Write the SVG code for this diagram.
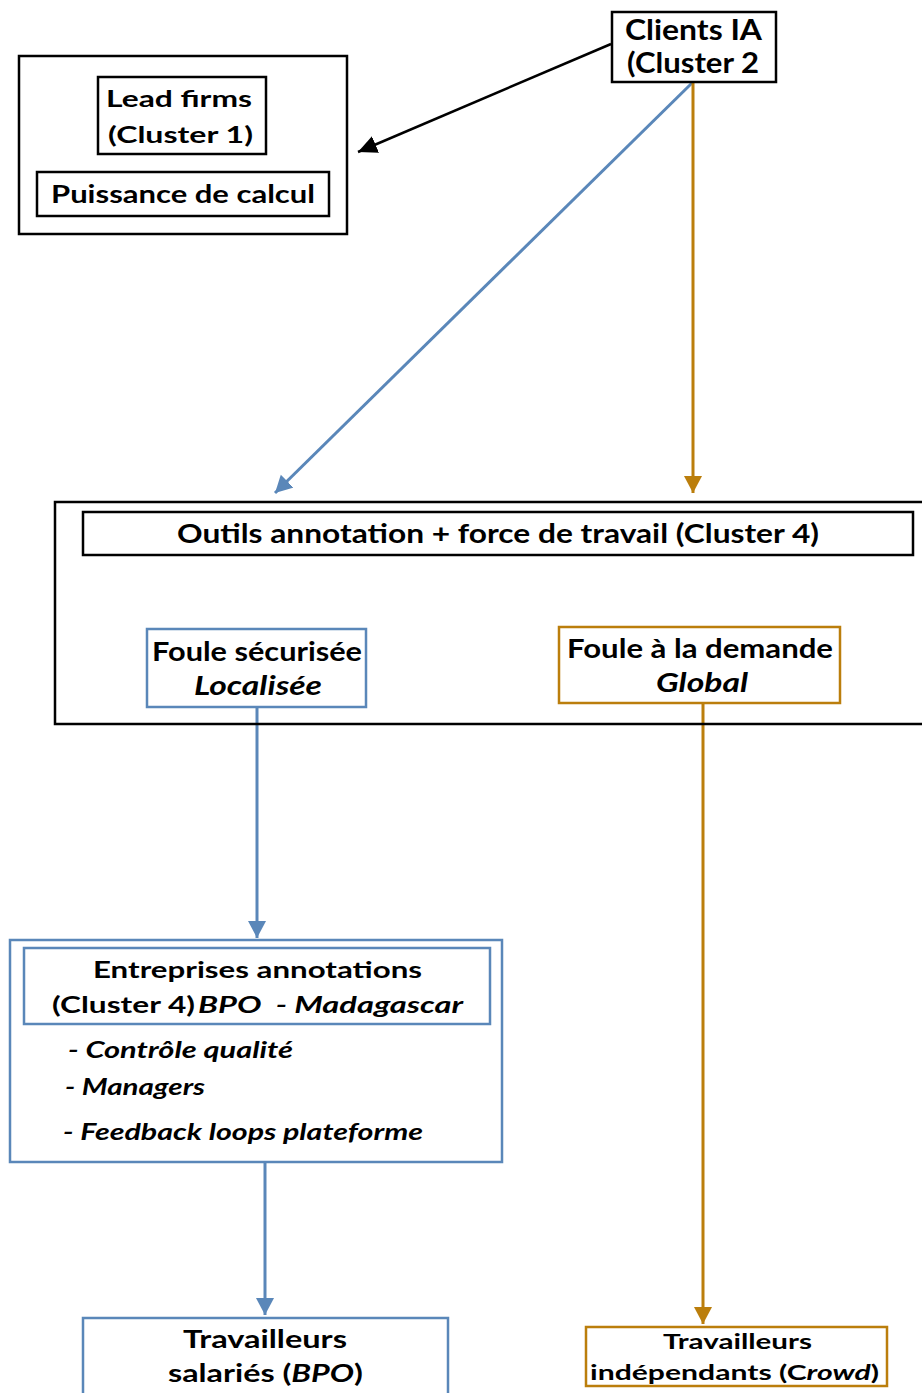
<svg xmlns="http://www.w3.org/2000/svg" width="922" height="1393" viewBox="0 0 922 1393">
<style>
.t{font-family:Lato,"Open Sans","Liberation Sans",sans-serif;font-weight:700;fill:#000}
.i{font-style:italic}
.bk{fill:none;stroke:#000;stroke-width:2.5}
.bl{fill:none;stroke:#5a87b9;stroke-width:2.5}
.or{fill:none;stroke:#bb7e0c;stroke-width:2.5}
.cbl{fill:none;stroke:#5a87b9;stroke-width:3}
.cor{fill:none;stroke:#bb7e0c;stroke-width:3}
.cbk{fill:none;stroke:#000;stroke-width:2.5}
</style>
<defs>
<marker id="ab" markerUnits="userSpaceOnUse" markerWidth="20" markerHeight="20" refX="17" refY="9" orient="auto"><path d="M0,0 L17,9 L0,18 z" fill="#5a87b9"/></marker>
<marker id="ao" markerUnits="userSpaceOnUse" markerWidth="20" markerHeight="20" refX="17" refY="9" orient="auto"><path d="M0,0 L17,9 L0,18 z" fill="#bb7e0c"/></marker>
<marker id="ak" markerUnits="userSpaceOnUse" markerWidth="22" markerHeight="22" refX="19" refY="9" orient="auto"><path d="M0,0 L19,9 L0,18 z" fill="#000"/></marker>
</defs>
<rect width="922" height="1393" fill="#fff"/>

<g id="connectors">
<line class="cbk" x1="611" y1="44" x2="358" y2="152" marker-end="url(#ak)"/>
<line class="cbl" x1="692" y1="83" x2="275" y2="493" marker-end="url(#ab)"/>
<line class="cor" x1="693" y1="83" x2="693" y2="493" marker-end="url(#ao)"/>
<line class="cbl" x1="257" y1="708" x2="257" y2="938" marker-end="url(#ab)"/>
<line class="cor" x1="703" y1="704" x2="703" y2="1324" marker-end="url(#ao)"/>
<line class="cbl" x1="265" y1="1162" x2="265" y2="1315" marker-end="url(#ab)"/>
</g>

<g id="clients">
<rect class="bk" x="612" y="12" width="164" height="70"/>
<text class="t" x="625" y="40" font-size="28" textLength="137" lengthAdjust="spacingAndGlyphs">Clients IA</text>
<text class="t" x="627" y="73" font-size="28" textLength="132" lengthAdjust="spacingAndGlyphs">(Cluster 2</text>
</g>

<g id="cluster1">
<rect class="bk" x="19" y="56" width="328" height="178"/>
<g id="leadfirms">
<rect class="bk" x="98" y="77" width="168" height="77"/>
<text class="t" x="106" y="107" font-size="22" textLength="146" lengthAdjust="spacingAndGlyphs">Lead firms</text>
<text class="t" x="108" y="143" font-size="22" textLength="145" lengthAdjust="spacingAndGlyphs">(Cluster 1)</text>
</g>
<g id="puissance">
<rect class="bk" x="37" y="172" width="292" height="44"/>
<text class="t" x="51" y="203" font-size="24" textLength="264" lengthAdjust="spacingAndGlyphs">Puissance de calcul</text>
</g>
</g>

<g id="cluster4">
<rect class="bk" x="55" y="502" width="880" height="222"/>
<g id="outils">
<rect class="bk" x="83" y="512" width="830" height="43"/>
<text class="t" x="177" y="543" font-size="26" textLength="642" lengthAdjust="spacingAndGlyphs">Outils annotation + force de travail (Cluster 4)</text>
</g>
<g id="foule-securisee">
<rect class="bl" x="147" y="629" width="219" height="78"/>
<text class="t" x="152" y="661" font-size="26" textLength="210" lengthAdjust="spacingAndGlyphs">Foule sécurisée</text>
<text class="t i" x="194" y="695" font-size="26" textLength="128" lengthAdjust="spacingAndGlyphs">Localisée</text>
</g>
<g id="foule-demande">
<rect class="or" x="559" y="627" width="281" height="76"/>
<text class="t" x="567" y="658" font-size="26" textLength="266" lengthAdjust="spacingAndGlyphs">Foule à la demande</text>
<text class="t i" x="656" y="692" font-size="26" textLength="92" lengthAdjust="spacingAndGlyphs">Global</text>
</g>
</g>

<g id="entreprises">
<rect class="bl" x="10" y="940" width="492" height="222"/>
<rect class="bl" x="24" y="948" width="466" height="76"/>
<text class="t" x="93" y="978" font-size="23" textLength="329" lengthAdjust="spacingAndGlyphs">Entreprises annotations</text>
<text class="t" x="52" y="1013" font-size="23" textLength="143" lengthAdjust="spacingAndGlyphs">(Cluster 4)</text>
<text class="t i" x="198" y="1013" font-size="23" textLength="265" lengthAdjust="spacingAndGlyphs" xml:space="preserve">BPO  - Madagascar</text>
<text class="t i" x="68" y="1058" font-size="22" textLength="225" lengthAdjust="spacingAndGlyphs">- Contrôle qualité</text>
<text class="t i" x="65" y="1095" font-size="22" textLength="140" lengthAdjust="spacingAndGlyphs">- Managers</text>
<text class="t i" x="63" y="1140" font-size="22" textLength="360" lengthAdjust="spacingAndGlyphs">- Feedback loops plateforme</text>
</g>

<g id="salaries">
<rect class="bl" x="83" y="1318" width="365" height="90"/>
<text class="t" x="183" y="1348" font-size="24" textLength="164" lengthAdjust="spacingAndGlyphs">Travailleurs</text>
<text class="t" x="168" y="1382" font-size="24" textLength="195" lengthAdjust="spacingAndGlyphs">salariés (<tspan class="i">BPO</tspan>)</text>
</g>

<g id="independants">
<rect class="or" x="586" y="1327" width="301" height="59"/>
<text class="t" x="663" y="1349" font-size="21" textLength="149" lengthAdjust="spacingAndGlyphs">Travailleurs</text>
<text class="t" x="590" y="1380" font-size="21" textLength="289" lengthAdjust="spacingAndGlyphs">indépendants (C<tspan class="i">rowd</tspan>)</text>
</g>
</svg>
